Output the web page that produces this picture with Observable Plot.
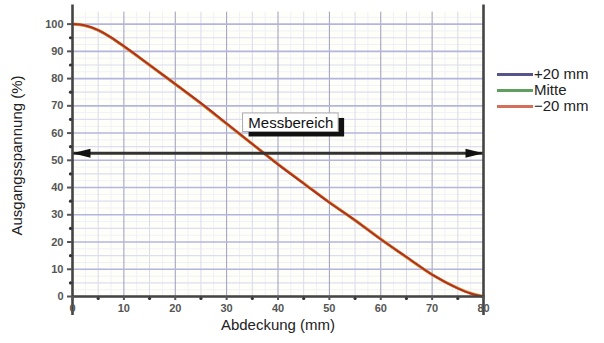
<!DOCTYPE html>
<html><head><meta charset="utf-8">
<script src="https://cdn.jsdelivr.net/npm/d3@7"></script>
<script src="https://cdn.jsdelivr.net/npm/@observablehq/plot@0.6"></script>
<style>
body{margin:0;background:#fff;font-family:"Liberation Sans",Arial,sans-serif;}
#wrap{position:relative;width:604px;height:343px;}
#legend{position:absolute;left:497px;top:66px;font-size:15px;color:#222;}
.item{display:flex;align-items:center;height:16px;line-height:16px}
.sw{width:36px;height:3px;margin-right:1px}
</style></head><body><div id="wrap"><div id="legend"></div></div>
<script>
// Data
const abdeckung = [0, 2.5, 5, 7.5, 10, 15, 20, 25, 30, 35, 40, 45, 50, 55, 60, 65, 70, 75, 77.5, 80];
const plus20  = [100, 99.4, 97.7, 95.0, 91.8, 84.9, 77.9, 70.9, 63.5, 55.9, 48.5, 41.5, 34.5, 27.9, 21.0, 14.5, 8.1, 3.0, 1.1, 0];
const mitte   = [100, 99.4, 97.8, 95.1, 91.8, 85.0, 78.0, 70.8, 63.4, 56.0, 48.6, 41.6, 34.6, 28.0, 21.1, 14.4, 8.0, 3.1, 1.2, 0];
const minus20 = [100, 99.5, 97.8, 95.1, 91.9, 85.0, 78.0, 71.0, 63.5, 56.0, 48.5, 41.5, 34.5, 28.0, 21.0, 14.5, 8.0, 3.0, 1.1, 0];
const seriesNames = ["+20 mm", "Mitte", "\u221220 mm"];
const seriesColors = ["#55558a", "#5fa05f", "#d4705a"];
const lineColors = ["#55558a", "#d9a040", "#b3301e"];

// Axis ticks
const xTicks = [0, 10, 20, 30, 40, 50, 60, 70, 80];
const xMinorTicks = [5, 15, 25, 35, 45, 55, 65, 75];
const xFaint = [2.5, 7.5, 12.5, 17.5, 22.5, 27.5, 32.5, 37.5, 42.5, 47.5, 52.5, 57.5, 62.5, 67.5, 72.5, 77.5];
const yTicks = [0, 10, 20, 30, 40, 50, 60, 70, 80, 90, 100];
const yMinorTicks = [5, 15, 25, 35, 45, 55, 65, 75, 85, 95];
const yFaint = [2.5, 7.5, 12.5, 17.5, 22.5, 27.5, 32.5, 37.5, 42.5, 47.5, 52.5, 57.5, 62.5, 67.5, 72.5, 77.5, 82.5, 87.5, 92.5, 97.5, 102.5];

// Annotation: measuring range
const rangeLabel = ["Messbereich"];
const rangeStart = [0];
const rangeEnd = [80];
const rangeLevel = [52.6];
const labelBoxX = [33.2, 51.8];
const labelBoxY = [60.4, 67.2];
const labelPos = [42.5, 63.8];

const xLabel = "Abdeckung (mm)";
const yLabel = "Ausgangsspannung (%)";

const rows = [];
[plus20, mitte, minus20].forEach((vals, s) => {
  vals.forEach((v, i) => rows.push({series: seriesNames[s], x: abdeckung[i], y: v}));
});

const leftHead = {draw(ctx){ ctx.moveTo(0,0); ctx.lineTo(18,-4.5); ctx.lineTo(18,4.5); ctx.closePath(); }};
const rightHead = {draw(ctx){ ctx.moveTo(0,0); ctx.lineTo(-18,-4.5); ctx.lineTo(-18,4.5); ctx.closePath(); }};

const chart = Plot.plot({
  width: 604,
  height: 343,
  marginLeft: 72,
  marginRight: 121,
  marginTop: 10,
  marginBottom: 47,
  x: {domain: [0, 80], label: null},
  y: {domain: [0, 105], label: null},
  style: {fontFamily: "Liberation Sans, Arial, sans-serif", background: "#fff", overflow: "visible"},
  marks: [
    Plot.rect([0], {x1: 0, x2: 80, y1: 0, y2: 104.4, fill: "#fffffa"}),
    Plot.ruleX(xFaint, {y1: 0, y2: 104.4, stroke: "#f0f0f6", strokeWidth: 1}),
    Plot.ruleY(yFaint.filter(d => d < 104), {x1: 0, x2: 80, stroke: "#f0f0f8", strokeWidth: 1}),
    Plot.ruleX(xMinorTicks, {y1: 0, y2: 104.4, stroke: "#dadae8", strokeWidth: 1}),
    Plot.ruleY(yMinorTicks, {x1: 0, x2: 80, stroke: "#dcdcf2", strokeWidth: 1.2}),
    Plot.ruleX(xTicks, {y1: 0, y2: 104.4, stroke: "#9c9cb8", strokeWidth: 1}),
    Plot.ruleY(yTicks, {x1: 0, x2: 80, stroke: "#b4b4e0", strokeWidth: 1.6}),
    // curves
    Plot.line(rows.filter(d => d.series === seriesNames[0]), {x: "x", y: "y", stroke: lineColors[0], strokeWidth: 2.2, curve: "monotone-x"}),
    Plot.line(rows.filter(d => d.series === seriesNames[1]), {x: "x", y: "y", stroke: lineColors[1], strokeWidth: 3.0, curve: "monotone-x"}),
    Plot.line(rows.filter(d => d.series === seriesNames[2]), {x: "x", y: "y", stroke: lineColors[2], strokeWidth: 2.0, curve: "monotone-x"}),
    // measuring range arrow
    Plot.ruleY(rangeLevel, {x1: rangeStart[0], x2: rangeEnd[0], stroke: "#333", strokeWidth: 3}),
    Plot.dot(rangeLevel, {x: rangeStart[0], y: d => d, symbol: leftHead, fill: "#111", stroke: "none", r: 5}),
    Plot.dot(rangeLevel, {x: rangeEnd[0], y: d => d, symbol: rightHead, fill: "#111", stroke: "none", r: 5}),
    // label box with shadow
    Plot.rect(rangeLabel, {x1: labelBoxX[0], x2: labelBoxX[1], y1: labelBoxY[0], y2: labelBoxY[1], fill: "#111", dx: 6, dy: 5}),
    Plot.rect(rangeLabel, {x1: labelBoxX[0], x2: labelBoxX[1], y1: labelBoxY[0], y2: labelBoxY[1], fill: "#fff", stroke: "#aaa", strokeWidth: 1}),
    Plot.text(rangeLabel, {x: labelPos[0], y: labelPos[1], text: d => d, fontSize: 15, fill: "#111"}),
    // axes
    Plot.ruleX([0, 80], {y1: -7, y2: 107, stroke: "#444", strokeWidth: 2.6}),
    Plot.ruleY([0], {x1: 0, x2: 80, stroke: "#444", strokeWidth: 2.6}),
    Plot.axisY({ticks: yTicks, tickSize: 5, tickPadding: 4, fontSize: 11, fontWeight: "bold", color: "#555", strokeWidth: 2, label: null}),
    Plot.axisX({ticks: xTicks, tickSize: 4, tickPadding: 4, fontSize: 11, fontWeight: "bold", color: "#555", strokeWidth: 2, label: null}),
    Plot.dot(yMinorTicks, {x: 0, y: d => d, r: 1.6, fill: "#333", stroke: "none", dx: -2}),
    Plot.dot(xMinorTicks, {x: d => d, y: 0, r: 1.6, fill: "#333", stroke: "none", dy: 2}),
    // axis titles
    Plot.text([yLabel], {frameAnchor: "left", textAnchor: "middle", rotate: -90, dx: -55, dy: 2, fontSize: 15, fill: "#222"}),
    Plot.text([xLabel], {frameAnchor: "bottom", dy: 33, fontSize: 15, fill: "#222"})
  ]
});
document.getElementById("wrap").prepend(chart);

const legend = document.getElementById("legend");
seriesNames.forEach((n, i) => {
  const it = document.createElement("div");
  it.className = "item";
  it.innerHTML = `<span class="sw" style="background:${seriesColors[i]}"></span><span>${n}</span>`;
  legend.appendChild(it);
});
</script></body></html>
